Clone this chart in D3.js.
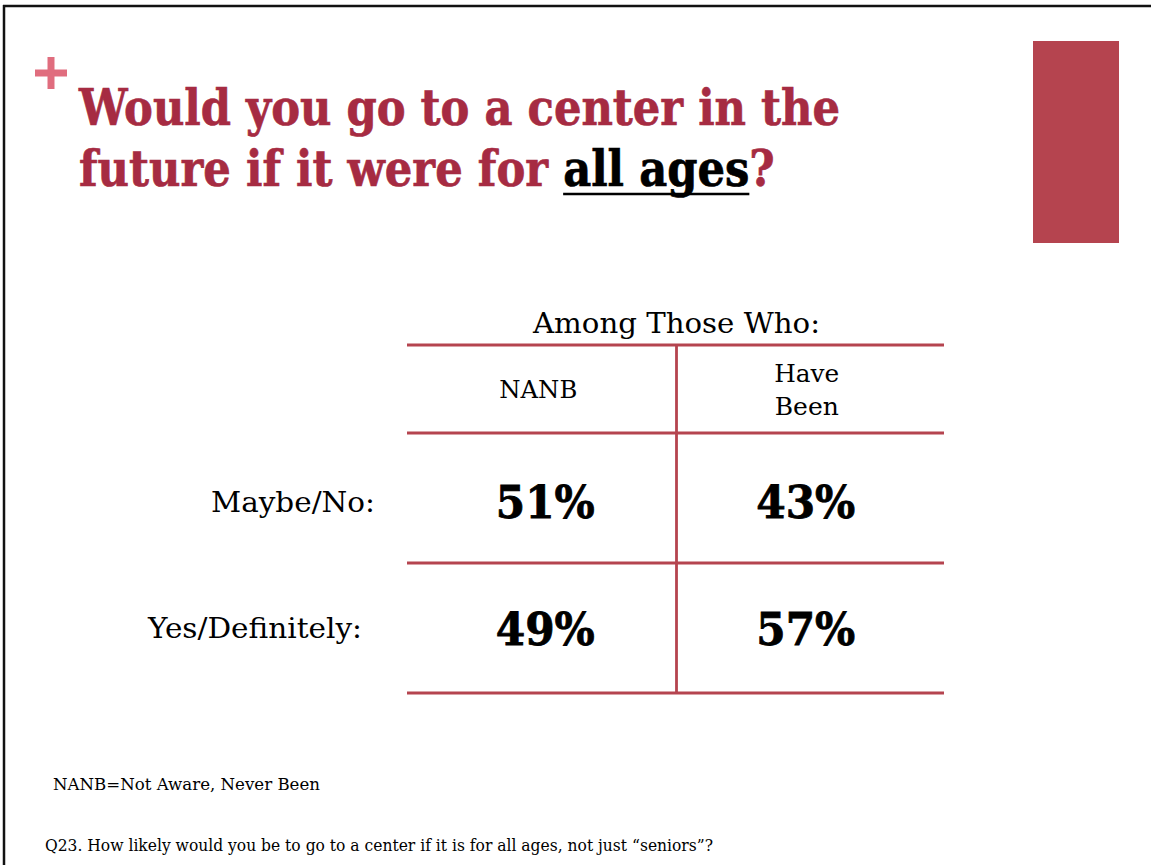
<!DOCTYPE html>
<html><head><meta charset="utf-8">
<script src="https://cdn.jsdelivr.net/npm/d3@7"></script>
<style>html,body{margin:0;padding:0;background:#fff;}svg{display:block;}</style>
</head><body>
<svg id="c" width="1151" height="865"></svg>
<script>
const columns = ["NANB", "Have Been"];
const columnLines = [["NANB"], ["Have", "Been"]];
const rows = ["Maybe/No:", "Yes/Definitely:"];
const valuesNANB = [51, 49];
const valuesHaveBeen = [43, 57];
const titleLine1 = "Would you go to a center in the";
const titleLine2a = "future if it were for ";
const titleLine2b = "all ages";
const titleLine2c = "?";
const groupLabel = "Among Those Who:";
const note = "NANB=Not Aware, Never Been";
const question = "Q23. How likely would you be to go to a center if it is for all ages, not just \u201cseniors\u201d?";

// layout (not data)
const rowLabelLeft = [211, 148];
const rowLabelWidth = [164, 214];
const rowLabelDy = [14, 10];
const valueDy = [20, 17];
const colCenterDx = [4, -4];

const table = rows.map((r, i) => ({row: r, i, vals: [valuesNANB[i], valuesHaveBeen[i]]}));

const svg = d3.select("#c");
const serif = "'DejaVu Serif', 'Liberation Serif', serif";
const red = "#B5444F", titleRed = "#A62B42";

// slide border (top & left)
svg.append("line").attr("x1", 3).attr("x2", 1151).attr("y1", 6).attr("y2", 6).attr("stroke", "#111").attr("stroke-width", 2.5);
svg.append("line").attr("x1", 4).attr("x2", 4).attr("y1", 5).attr("y2", 865).attr("stroke", "#111").attr("stroke-width", 2.5);

// plus sign
svg.append("line").attr("x1", 35).attr("x2", 67).attr("y1", 73).attr("y2", 73).attr("stroke", "#E06D7E").attr("stroke-width", 7);
svg.append("line").attr("x1", 51).attr("x2", 51).attr("y1", 57).attr("y2", 89).attr("stroke", "#E06D7E").attr("stroke-width", 7);

// red rectangle
svg.append("rect").attr("x", 1033).attr("y", 41).attr("width", 86).attr("height", 202).attr("fill", red);

function fit(sel, w) {
  sel.attr("textLength", w).attr("lengthAdjust", "spacingAndGlyphs");
  return sel;
}

// title line 1
fit(svg.append("text").attr("x", 79).attr("y", 125).attr("font-family", serif).attr("font-weight", "bold")
  .attr("font-size", 50).attr("fill", titleRed).attr("stroke", titleRed).attr("stroke-width", 0.7).text(titleLine1), 761);

// title line 2: one text with tspans, horizontally scaled to the target width
const g2 = svg.append("g");
const t2 = g2.append("text").attr("x", 0).attr("y", 0).attr("font-family", serif).attr("font-weight", "bold")
  .attr("font-size", 50).attr("stroke-width", 0.7);
t2.append("tspan").attr("fill", titleRed).attr("stroke", titleRed).text(titleLine2a);
const tb = t2.append("tspan").attr("fill", "#000").attr("stroke", "#000").text(titleLine2b);
t2.append("tspan").attr("fill", titleRed).attr("stroke", titleRed).text(titleLine2c);
const natW = t2.node().getComputedTextLength();
const sx = (775 - 79) / natW;
g2.attr("transform", `translate(79,186) scale(${sx},1)`);
const n = t2.node();
const startB = titleLine2a.length;
const endB = startB + titleLine2b.length - 1;
const ux1 = n.getStartPositionOfChar(startB).x;
const ux2 = n.getEndPositionOfChar(endB).x;
g2.append("line").attr("x1", ux1).attr("x2", ux2).attr("y1", 8).attr("y2", 8)
  .attr("stroke", "#000").attr("stroke-width", 2.5);

// table scales
const x = d3.scaleBand().domain(columns).range([407, 944]);
const yHead = [345, 433];
const y = d3.scaleBand().domain(rows).range([433, 693]);

svg.append("text").attr("x", 533).attr("y", 333)
  .attr("font-family", serif).attr("font-size", 28).attr("fill", "#000").text(groupLabel)
  .call(s => fit(s, 287));

// horizontal lines
const hLines = [yHead[0], yHead[1]].concat(rows.map(r => y(r) + y.bandwidth()));
svg.selectAll("line.h").data(hLines).enter().append("line").attr("class", "h")
  .attr("x1", x.range()[0]).attr("x2", x.range()[1]).attr("y1", d => d).attr("y2", d => d)
  .attr("stroke", red).attr("stroke-width", 2.8);
// vertical divider
svg.append("line").attr("x1", x(columns[1]) + 1).attr("x2", x(columns[1]) + 1).attr("y1", yHead[0]).attr("y2", y.range()[1])
  .attr("stroke", red).attr("stroke-width", 2.8);

// column headers
columns.forEach((c, i) => {
  const lines = columnLines[i];
  const cx = x(c) + x.bandwidth() / 2 - 3;
  const mid = (yHead[0] + yHead[1]) / 2;
  lines.forEach((ln, j) => {
    svg.append("text").attr("x", cx).attr("y", mid + 9 + (j - (lines.length - 1) / 2) * 33)
      .attr("text-anchor", "middle").attr("font-family", serif).attr("font-size", 24).attr("fill", "#000").text(ln)
      .call(s => fit(s, ln === "NANB" ? 78 : (ln === "Have" ? 65 : 64)));
  });
});

// row labels and values
table.forEach(d => {
  const cy = y(d.row) + y.bandwidth() / 2;
  svg.append("text").attr("x", rowLabelLeft[d.i]).attr("y", cy + rowLabelDy[d.i]).attr("font-family", serif)
    .attr("font-size", 28).attr("fill", "#000").text(d.row).call(s => fit(s, rowLabelWidth[d.i]));
  d.vals.forEach((v, i) => {
    svg.append("text").attr("x", x(columns[i]) + x.bandwidth() / 2 + colCenterDx[i]).attr("y", cy + valueDy[d.i])
      .attr("text-anchor", "middle")
      .attr("font-family", serif).attr("font-weight", "bold").attr("font-size", 44).attr("fill", "#000")
      .attr("stroke", "#000").attr("stroke-width", 0.8).text(v + "%")
      .call(s => fit(s, 99));
  });
});

// footnotes
svg.append("text").attr("x", 53).attr("y", 790).attr("font-family", serif).attr("font-size", 17).attr("fill", "#000")
  .text(note).call(s => fit(s, 267));
svg.append("text").attr("x", 45).attr("y", 851).attr("font-family", serif).attr("font-size", 16).attr("fill", "#000")
  .text(question).call(s => fit(s, 668));
</script>
</body></html>
